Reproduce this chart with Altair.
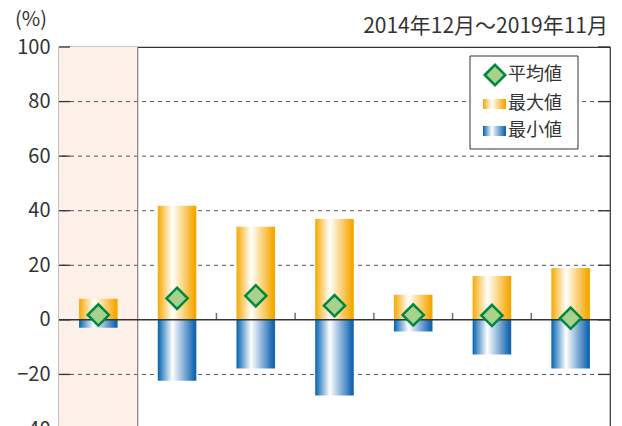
import altair as alt
import pandas as pd

categories = ["1", "2", "3", "4", "5", "6", "7"]
max_vals = [7.7, 41.8, 34.1, 37.0, 9.2, 16.1, 19.0]
min_vals = [-2.9, -22.3, -17.8, -27.7, -4.3, -12.7, -17.8]
avg_vals = [1.8, 7.9, 8.8, 5.2, 1.8, 1.6, 0.6]
grid_vals = [-20, 20, 40, 60, 80]
tick_vals = [-40, -20, 0, 20, 40, 60, 80, 100]
shaded = ["1"]
boundary_cats = ["2", "3", "4", "5", "6"]

W, H = 551, 382
FONT = "Noto Sans CJK JP"

df = pd.DataFrame({"cat": categories, "max": max_vals, "min": min_vals, "avg": avg_vals})
grid_df = pd.DataFrame({"v": grid_vals})
tick_df = pd.DataFrame({"v": tick_vals})
shade_df = pd.DataFrame({"cat": shaded})
bnd_df = pd.DataFrame({"cat": boundary_cats})
one = pd.DataFrame({"a": [0]})

xscale = alt.Scale(domain=categories, paddingInner=0, paddingOuter=0)
yscale = alt.Scale(domain=[-40, 100], nice=False)

orange = alt.Gradient(
    gradient="linear", x1=0, x2=1, y1=0, y2=0,
    stops=[alt.GradientStop(offset=0, color="#F6A800"),
           alt.GradientStop(offset=0.38, color="#FFFFFF"),
           alt.GradientStop(offset=0.95, color="#F6A800"),
           alt.GradientStop(offset=1, color="#F6A800")])
blue = alt.Gradient(
    gradient="linear", x1=0, x2=1, y1=0, y2=0,
    stops=[alt.GradientStop(offset=0, color="#0063B1"),
           alt.GradientStop(offset=0.38, color="#FFFFFF"),
           alt.GradientStop(offset=0.95, color="#1466B2"),
           alt.GradientStop(offset=1, color="#1466B2")])

X = alt.X("cat:N", scale=xscale, axis=None, sort=categories)

shade = alt.Chart(shade_df).mark_rect(color="#FDF0E8").encode(
    x=X, y=alt.value(0), y2=alt.value(H + 40))

sep = alt.Chart(shade_df).mark_rule(color="#8A7F7A", strokeWidth=1.2).encode(
    x=alt.X("cat:N", scale=xscale, axis=None, sort=categories, bandPosition=1),
    y=alt.value(0), y2=alt.value(H + 40))

grid = alt.Chart(grid_df).mark_rule(color="#555555", strokeDash=[4, 4], strokeWidth=1).encode(
    y=alt.Y("v:Q", scale=yscale,
            axis=alt.Axis(values=tick_vals, ticks=False, domain=False, grid=False,
                          labelFontSize=20, labelColor="#333333", labelPadding=9,
                          labelFont=FONT, title=None)))

lticks = alt.Chart(tick_df).mark_rule(color="#333333", strokeWidth=1.3).encode(
    y=alt.Y("v:Q", scale=yscale), x=alt.value(0), x2=alt.value(11))
rticks = alt.Chart(tick_df).mark_rule(color="#333333", strokeWidth=1.3).encode(
    y=alt.Y("v:Q", scale=yscale), x=alt.value(W - 12), x2=alt.value(W))

bars_max = alt.Chart(df).mark_bar(color=orange, width=alt.RelativeBandSize(0.49)).encode(
    x=X, y=alt.Y("max:Q", scale=yscale))
bars_min = alt.Chart(df).mark_bar(color=blue, width=alt.RelativeBandSize(0.49)).encode(
    x=X, y=alt.Y("min:Q", scale=yscale))

zero = alt.Chart(one).mark_rule(color="#333333", strokeWidth=1.5).encode(
    y=alt.Y("a:Q", scale=yscale))

zticks = alt.Chart(bnd_df).mark_tick(orient="vertical", size=7, thickness=1.5,
                                     color="#333333", yOffset=-3.5).encode(
    x=alt.X("cat:N", scale=xscale, axis=None, sort=categories, bandPosition=1),
    y=alt.datum(0))

diam = alt.Chart(df).mark_point(shape="diamond", filled=True, fill="#A9D18E",
                                stroke="#00883F", strokeWidth=2.5, size=450, opacity=1).encode(
    x=X, y=alt.Y("avg:Q", scale=yscale))

# legend box
lg_box = alt.Chart(one).mark_rect(fill="white", stroke="#333333", strokeWidth=1).encode(
    x=alt.value(411), x2=alt.value(519), y=alt.value(9), y2=alt.value(102))
lg_diam = alt.Chart(one).mark_point(shape="diamond", filled=True, fill="#A9D18E",
                                    stroke="#00883F", strokeWidth=2.5, size=420, opacity=1).encode(
    x=alt.value(436), y=alt.value(28))
lg_or = alt.Chart(one).mark_rect(color=orange).encode(
    x=alt.value(424), x2=alt.value(447), y=alt.value(52), y2=alt.value(62))
lg_bl = alt.Chart(one).mark_rect(color=blue).encode(
    x=alt.value(424), x2=alt.value(447), y=alt.value(79), y2=alt.value(89))
lg_txt = []
for label, yy in [("平均値", 28), ("最大値", 57), ("最小値", 84)]:
    lg_txt.append(alt.Chart(one).mark_text(text=label, align="left", baseline="middle",
                                           fontSize=18, font=FONT, color="#333333").encode(
        x=alt.value(449), y=alt.value(yy)))

pct = alt.Chart(one).mark_text(text="(%)", align="center", baseline="middle",
                               fontSize=20, font=FONT, color="#333333").encode(
    x=alt.value(-28), y=alt.value(-27))
period = alt.Chart(one).mark_text(text="2014年12月～2019年11月", align="right", baseline="middle",
                                  fontSize=21, font=FONT, color="#333333").encode(
    x=alt.value(W - 2), y=alt.value(-20))

chart = alt.layer(
    shade, grid, sep, bars_max, bars_min, zero, zticks, lticks, rticks, diam,
    lg_box, lg_diam, lg_or, lg_bl, *lg_txt, pct, period
).properties(
    width=W, height=H,
    autosize=alt.AutoSizeParams(type="none"),
    padding={"left": 51, "top": 39, "right": 4, "bottom": 0},
).configure_view(stroke="#333333", strokeWidth=1.2)

chart.save("out.html", embed_options={"renderer": "svg", "actions": False})
